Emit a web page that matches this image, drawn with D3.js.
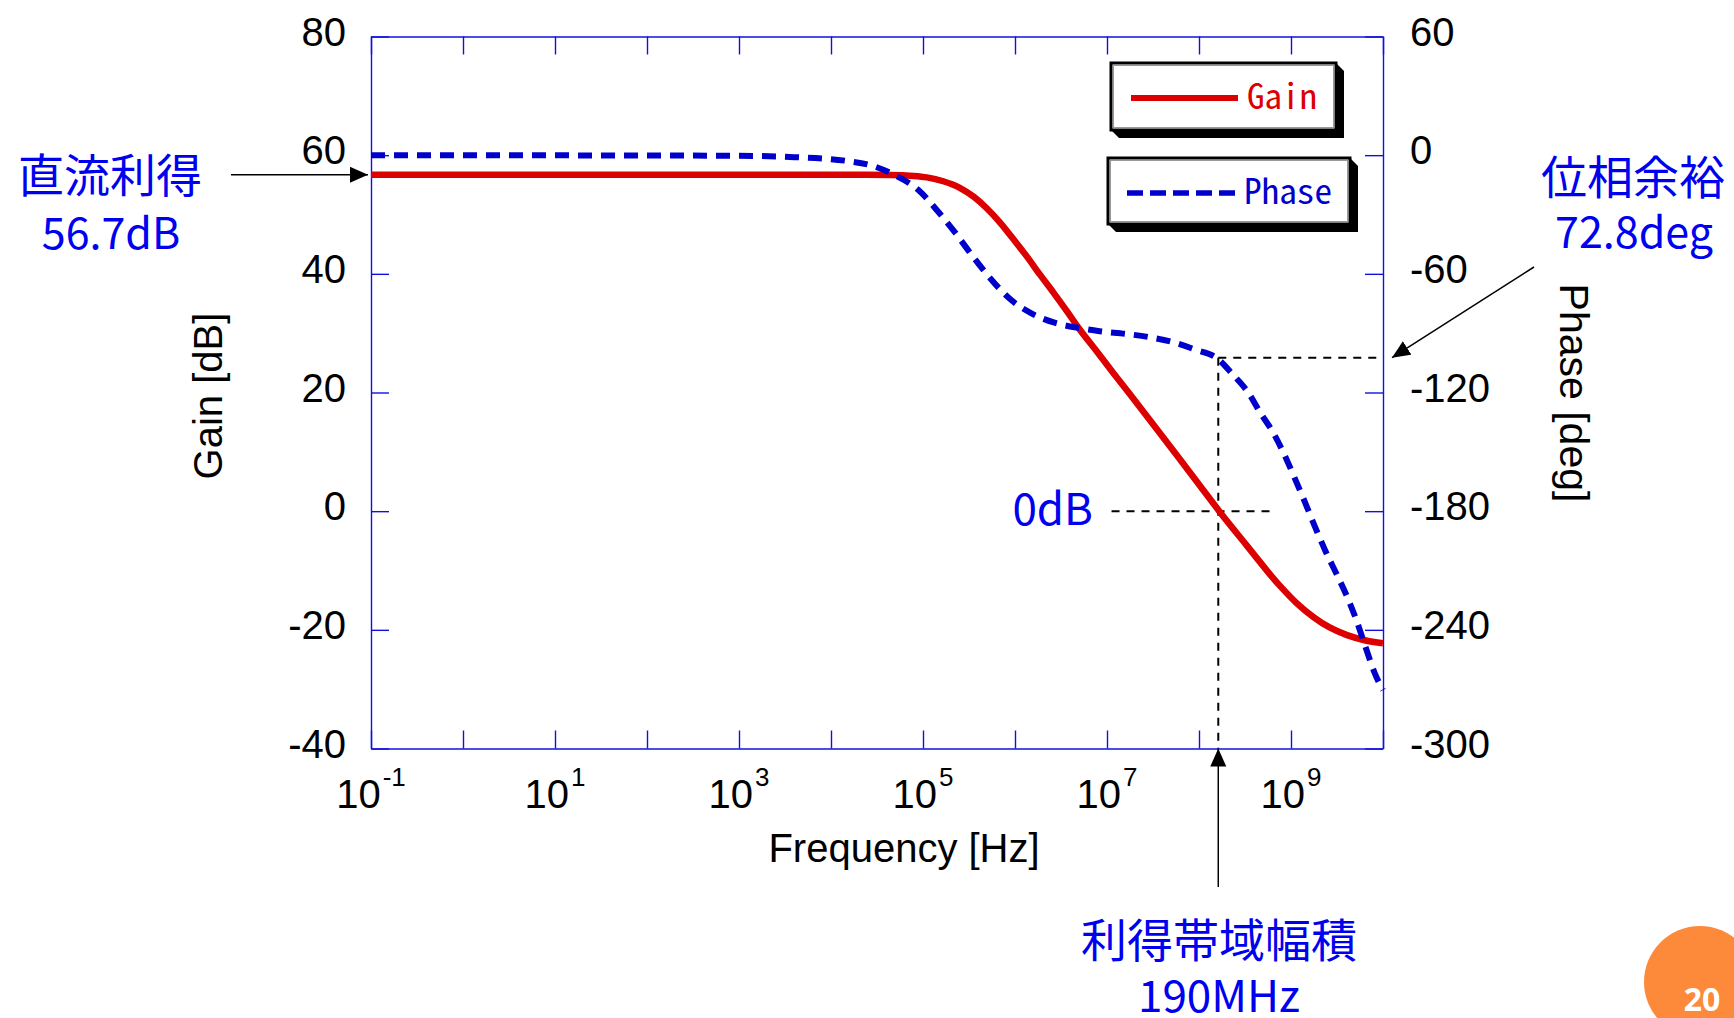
<!DOCTYPE html>
<html><head><meta charset="utf-8">
<script src="https://cdn.jsdelivr.net/npm/d3@7"></script>
<style>
html,body{margin:0;padding:0;background:#fff;}
svg{display:block;}
</style>
</head><body>
<svg id="chart" width="1734" height="1018"></svg>
<script>
// ---------- data ----------
const gainFreq = [1e-1, 1e4, 4.37e4, 7.94e4, 1.1e5, 1.66e5, 2.51e5, 3.55e5, 4.9e5, 6.92e5, 9.55e5,
  1.35e6, 1.86e6, 2.63e6, 3.63e6, 5.01e6, 7.76e6, 1.17e7, 2.69e7, 6.17e7, 1e8, 1.66e8, 3.31e8, 7.59e8,
  1.15e9, 1.74e9, 2.63e9, 4.07e9, 6.31e9, 1e10];
const gainDb = [56.7, 56.7, 56.67, 56.5, 56.25, 55.6, 54.5, 53.0, 51.1, 48.6, 45.9,
  42.9, 39.9, 36.8, 33.8, 30.7, 26.9, 23.3, 16.1, 8.8, 4.5, 0.0, -5.8, -12.6,
  -15.5, -17.8, -19.6, -20.9, -21.75, -22.25];

const phaseFreq = [1e-1, 1e3, 4e3, 1.48e4, 2.88e4, 5.13e4, 8.91e4, 1.41e5, 2.24e5, 3.39e5, 5.37e5,
  8.91e5, 1.51e6, 2.69e6, 5.13e6, 8.32e6, 1.62e7, 2.95e7, 5.25e7, 9.33e7, 1.58e8, 2.34e8, 3.47e8,
  4.57e8, 6.46e8, 8.51e8, 1.1e9, 1.41e9, 1.82e9, 2.34e9, 3.16e9, 4.07e9, 5.13e9, 6.61e9, 8.13e9, 1e10];
const phaseDeg = [0, -0.3, -1.0, -2.9, -5.5, -10.5, -17.6, -27.7, -39.2, -50.5, -62.2,
  -72.9, -80, -84.7, -87.5, -89, -90.4, -92.1, -94.6, -98.5, -102.8, -111, -120.4,
  -129.7, -140.6, -151.6, -163.4, -175.2, -187.8, -199.6, -212.2, -223.2, -235, -250.1, -261.9, -270.5];

const decadeTicks = [1e-1, 1e0, 1e1, 1e2, 1e3, 1e4, 1e5, 1e6, 1e7, 1e8, 1e9, 1e10];
const labelExponents = [-1, 1, 3, 5, 7, 9];
const gainTicks = [-40, -20, 0, 20, 40, 60, 80];
const phaseTicks = [-300, -240, -180, -120, -60, 0, 60];
const legendLabels = ["Gain", "Phase"];

const dcGain = 56.7;          // 直流利得
const phaseMarginText = "72.8deg";
const gbwText = "190MHz";
const unityGainFreq = 1.62e8; // 0 dB crossing marker position
const phaseAtUnity = -102.4;  // phase at the crossing
const zeroDbLineFreq = [1.12e7, 6.0e8];

// ---------- layout ----------
const L = 371, R = 1383, T = 36.5, B = 748.5;
const AX = "#1010e0";
const RED = "#dd0000", BLUE = "#0000cc", TXTBLUE = "#0000f0";

const svg = d3.select("#chart");
const x = d3.scaleLog().domain([1e-1, 1e10]).range([L, R]);
const yG = d3.scaleLinear().domain([-40, 80]).range([B, T]);
const yP = d3.scaleLinear().domain([-300, 60]).range([B, T]);

const defs = svg.append("defs");
defs.append("marker").attr("id", "ah").attr("markerUnits", "userSpaceOnUse")
  .attr("markerWidth", 20).attr("markerHeight", 18).attr("refX", 18).attr("refY", 8)
  .attr("orient", "auto")
  .append("path").attr("d", "M0,0 L18,8 L0,16 Z").attr("fill", "#000");

// ---------- axes ----------
function styleAxis(g) {
  g.select(".domain").attr("stroke", AX).attr("stroke-width", 1.4);
  g.selectAll(".tick line").attr("stroke", AX).attr("stroke-width", 1.4);
  g.selectAll(".tick text").remove();
}
svg.append("g").attr("transform", `translate(0,${B})`)
  .call(d3.axisBottom(x).tickValues(decadeTicks).tickSizeInner(-18).tickSizeOuter(0).tickFormat(""))
  .call(styleAxis);
svg.append("g").attr("transform", `translate(0,${T})`)
  .call(d3.axisTop(x).tickValues(decadeTicks).tickSizeInner(-18).tickSizeOuter(0).tickFormat(""))
  .call(styleAxis);
svg.append("g").attr("transform", `translate(${L},0)`)
  .call(d3.axisLeft(yG).tickValues(gainTicks).tickSizeInner(-18).tickSizeOuter(0).tickFormat(""))
  .call(styleAxis);
svg.append("g").attr("transform", `translate(${R},0)`)
  .call(d3.axisRight(yP).tickValues(phaseTicks).tickSizeInner(-18).tickSizeOuter(0).tickFormat(""))
  .call(styleAxis);

const tickFont = "'Liberation Sans', Arial, sans-serif";
svg.append("g").selectAll("text").data(gainTicks).join("text")
  .attr("x", L - 25).attr("y", d => yG(d) + 9).attr("text-anchor", "end")
  .attr("font-family", tickFont).attr("font-size", 40).attr("fill", "#000").text(d => d);
svg.append("g").selectAll("text").data(phaseTicks).join("text")
  .attr("x", R + 27).attr("y", d => yP(d) + 9).attr("text-anchor", "start")
  .attr("font-family", tickFont).attr("font-size", 40).attr("fill", "#000").text(d => d);
const xl = svg.append("g").selectAll("text").data(labelExponents).join("text")
  .attr("x", d => x(Math.pow(10, d))).attr("y", 808).attr("text-anchor", "middle")
  .attr("font-family", tickFont).attr("fill", "#000");
xl.append("tspan").attr("font-size", 40).text("10");
xl.append("tspan").attr("font-size", 26).attr("dy", -22).attr("dx", 2).text(d => d);

svg.append("text").attr("x", 904).attr("y", 862).attr("text-anchor", "middle")
  .attr("font-family", tickFont).attr("font-size", 40).text("Frequency [Hz]");
svg.append("text").attr("transform", "translate(222,396) rotate(-90)").attr("text-anchor", "middle")
  .attr("font-family", tickFont).attr("font-size", 40).text("Gain [dB]");
svg.append("text").attr("transform", "translate(1560,393) rotate(90)").attr("text-anchor", "middle")
  .attr("font-family", tickFont).attr("font-size", 41).text("Phase [deg]");

// ---------- annotation dashed lines ----------
const dash = {stroke: "#000", "stroke-width": 2, "stroke-dasharray": "8,7", fill: "none"};
function applyAttrs(sel, o) { for (const k in o) sel.attr(k, o[k]); return sel; }
applyAttrs(svg.append("line").attr("x1", x(unityGainFreq)).attr("x2", R)
  .attr("y1", yP(phaseAtUnity)).attr("y2", yP(phaseAtUnity)), dash);
applyAttrs(svg.append("line").attr("x1", x(unityGainFreq)).attr("x2", x(unityGainFreq))
  .attr("y1", yP(phaseAtUnity)).attr("y2", B), dash);
applyAttrs(svg.append("line").attr("x1", x(zeroDbLineFreq[0])).attr("x2", x(zeroDbLineFreq[1]))
  .attr("y1", yG(0)).attr("y2", yG(0)), dash);

// ---------- curves ----------
const gainData = gainFreq.map((f, i) => [f, gainDb[i]]);
const phaseData = phaseFreq.map((f, i) => [f, phaseDeg[i]]);
svg.append("path").datum(gainData)
  .attr("d", d3.line().x(d => x(d[0])).y(d => yG(d[1])).curve(d3.curveMonotoneX))
  .attr("fill", "none").attr("stroke", RED).attr("stroke-width", 6.5);
svg.append("path").datum(phaseData)
  .attr("d", d3.line().x(d => x(d[0])).y(d => yP(d[1])).curve(d3.curveMonotoneX))
  .attr("fill", "none").attr("stroke", BLUE).attr("stroke-width", 6)
  .attr("stroke-dasharray", "14,9");

// ---------- legend ----------
const legendBoxes = [
  {x0: 1111, y0: 63, x1: 1336, y1: 130, lx0: 1131, lx1: 1238, ly: 98, tx: 1247, tb: 109, tw: 70, color: RED, dashed: false},
  {x0: 1108, y0: 158, x1: 1350, y1: 224, lx0: 1127, lx1: 1235, ly: 193, tx: 1244, tb: 204, tw: 88, color: BLUE, dashed: true}
];
legendBoxes.forEach((b, i) => {
  const s = 8;
  svg.append("path").attr("d",
    `M${b.x1},${b.y0} L${b.x1 + s},${b.y0 + s} L${b.x1 + s},${b.y1 + s} L${b.x0 + s},${b.y1 + s} L${b.x0},${b.y1} L${b.x1},${b.y1} Z`)
    .attr("fill", "#000");
  svg.append("rect").attr("x", b.x0).attr("y", b.y0).attr("width", b.x1 - b.x0).attr("height", b.y1 - b.y0)
    .attr("fill", "#fff").attr("stroke", "#000").attr("stroke-width", 3);
  svg.append("rect").attr("x", b.x0 + 2.5).attr("y", b.y0 + 2.5).attr("width", b.x1 - b.x0 - 5).attr("height", b.y1 - b.y0 - 5)
    .attr("fill", "none").attr("stroke", "#999").attr("stroke-width", 1);
  const ln = svg.append("line").attr("x1", b.lx0).attr("x2", b.lx1).attr("y1", b.ly).attr("y2", b.ly)
    .attr("stroke", b.color).attr("stroke-width", b.dashed ? 5.5 : 6);
  if (b.dashed) ln.attr("stroke-dasharray", "16,7");
  svg.append("text").attr("x", b.tx).attr("y", b.tb)
    .attr("font-family", "'Noto Sans Mono CJK JP','DejaVu Sans Mono',monospace").attr("font-size", 35)
    .attr("textLength", b.tw).attr("lengthAdjust", "spacingAndGlyphs")
    .attr("fill", b.color).text(legendLabels[i]);
});

// ---------- annotations ----------
const jp = "'Noto Sans CJK JP', 'Noto Sans', sans-serif";
function note(tx, ty, str, size, anchor) {
  return svg.append("text").attr("x", tx).attr("y", ty).attr("text-anchor", anchor || "middle")
    .attr("font-family", jp).attr("font-size", size).attr("fill", TXTBLUE).text(str);
}
note(110, 192, "直流利得", 46);
note(111, 249, dcGain.toFixed(1) + "dB", 43);
note(1633, 194, "位相余裕", 46);
note(1634, 248, phaseMarginText, 43);
note(1093, 525, "0dB", 44, "end");
note(1219, 957, "利得帯域幅積", 46);
note(1219, 1012, gbwText, 44);

// arrows
const arrow = {stroke: "#000", "stroke-width": 1.5, "marker-end": "url(#ah)"};
applyAttrs(svg.append("line").attr("x1", 231).attr("y1", yG(dcGain)).attr("x2", L - 3).attr("y2", yG(dcGain)), arrow);
applyAttrs(svg.append("line").attr("x1", 1534).attr("y1", 267).attr("x2", 1392).attr("y2", yP(phaseAtUnity)), arrow);
applyAttrs(svg.append("line").attr("x1", x(unityGainFreq)).attr("y1", 887).attr("x2", x(unityGainFreq)).attr("y2", B), arrow);

// page number badge
svg.append("circle").attr("cx", 1700).attr("cy", 982).attr("r", 56).attr("fill", "#fd8a3b");
svg.append("text").attr("x", 1702).attr("y", 1011).attr("text-anchor", "middle")
  .attr("font-family", "'Open Sans', 'Noto Sans', sans-serif").attr("font-weight", 700)
  .attr("font-size", 32).attr("fill", "#fff").text("20");
</script>
</body></html>
